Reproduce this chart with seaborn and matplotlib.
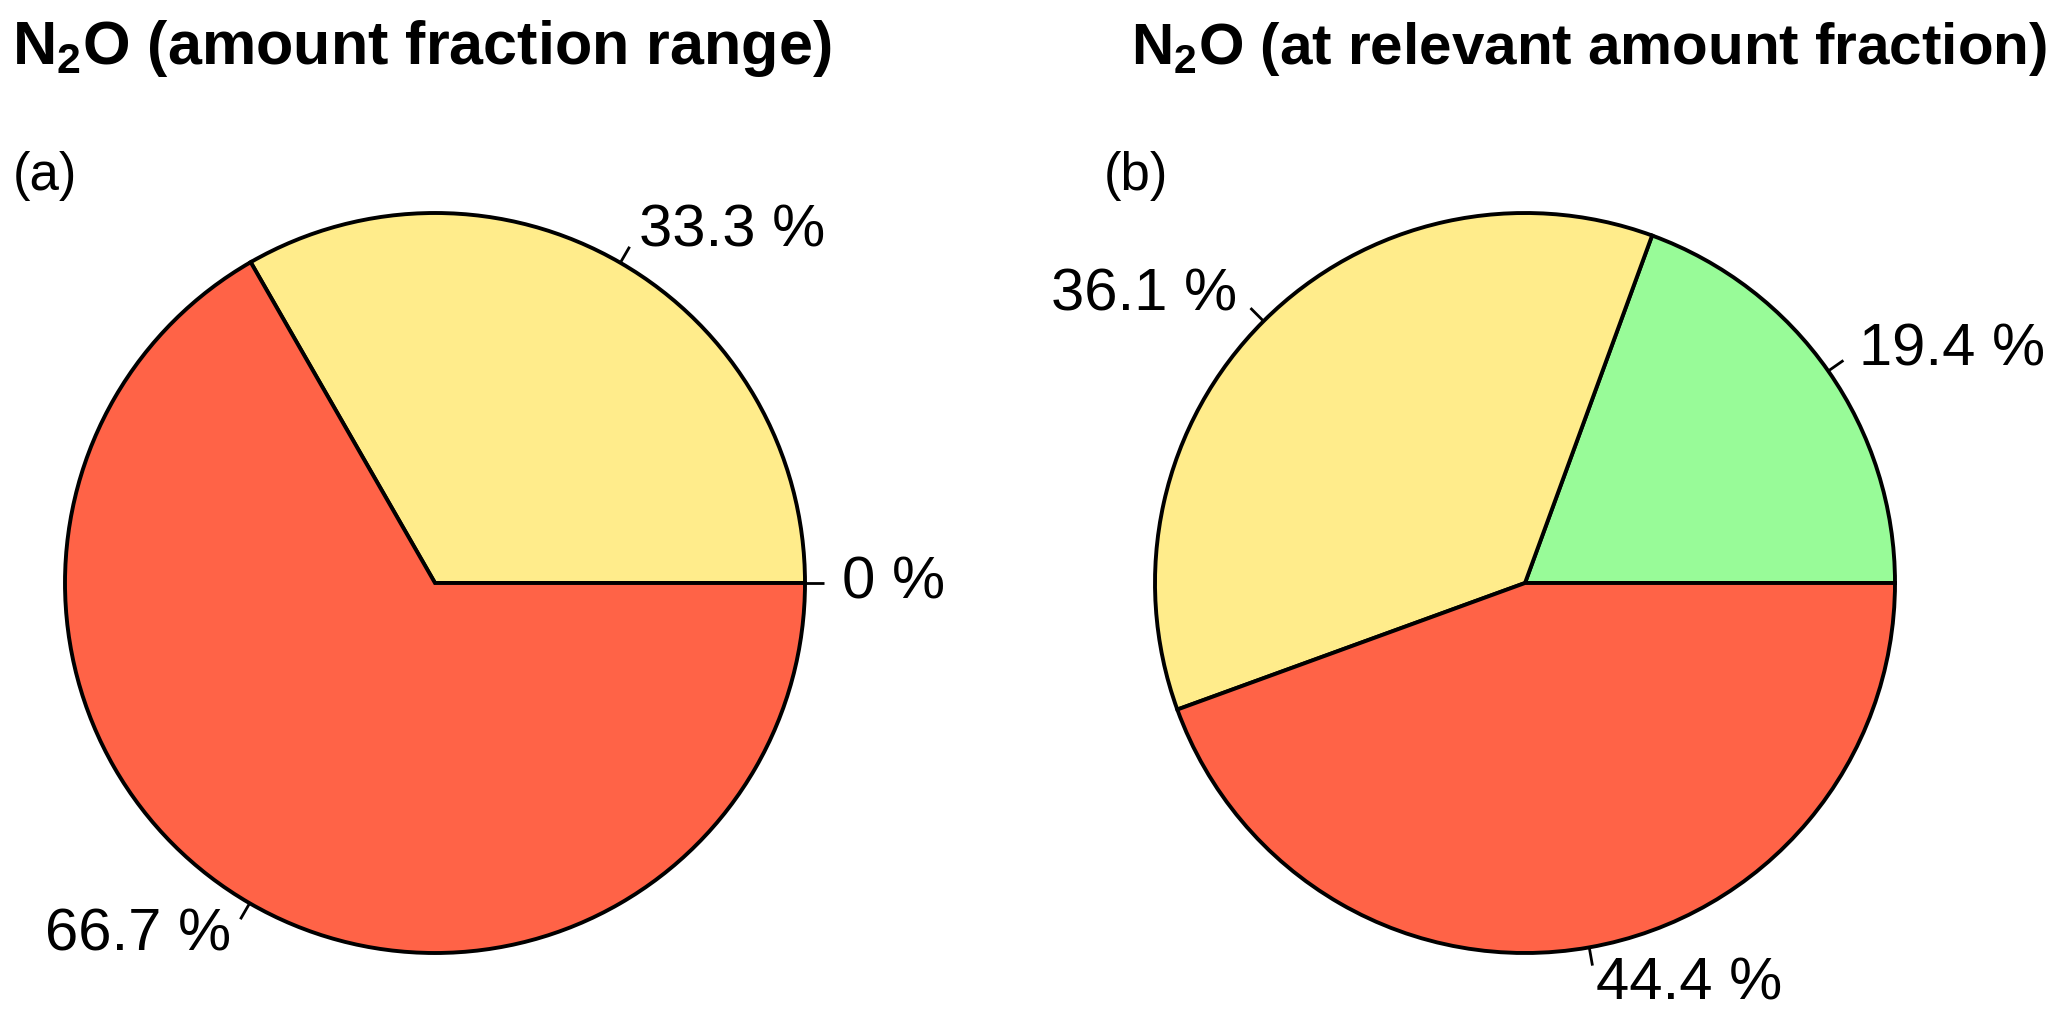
import numpy as np
import matplotlib
matplotlib.use("Agg")
import matplotlib.pyplot as plt
import seaborn as sns

# pie data: green, yellow, red
colors = ["#98FB98", "#FFEC8B", "#FF6347"]
share_a = [0.0, 33.3, 66.7]
share_b = [19.4, 36.1, 44.4]
labels_a = ["0 %", "33.3 %", "66.7 %"]
labels_b = ["19.4 %", "36.1 %", "44.4 %"]
titles = [r"N$_\mathbf{2}$O (amount fraction range)",
          r"N$_\mathbf{2}$O (at relevant amount fraction)"]
panels = ["(a)", "(b)"]

sns.set_theme(style="white")
plt.rcParams["font.family"] = ["Liberation Sans", "DejaVu Sans"]
plt.rcParams["mathtext.fontset"] = "custom"
plt.rcParams["mathtext.rm"] = "Liberation Sans"
plt.rcParams["mathtext.bf"] = "Liberation Sans:bold"
plt.rcParams["text.color"] = "black"

W, H = 2067, 1026
R = 370.0
fig = plt.figure(figsize=(W / 100, H / 100), dpi=100)
fig.patch.set_facecolor("white")


def draw_pie(ax, vals, labs, cx, cy, half_w):
    vals = np.array(vals)
    ax.pie(vals, colors=colors, startangle=0, counterclock=True,
           wedgeprops=dict(edgecolor="black", linewidth=2.8), radius=1.0)
    ax.set_aspect("auto")
    ax.set_xlim(-cx / R, (half_w - cx) / R)
    ax.set_ylim(-(H - cy) / R, cy / R)
    ax.axis("off")
    frac = vals / vals.sum()
    edges = np.concatenate([[0], np.cumsum(frac)])
    for i, lab in enumerate(labs):
        mid = 2 * np.pi * (edges[i] + edges[i + 1]) / 2
        x, y = np.cos(mid), np.sin(mid)
        ax.plot([x, 1.05 * x], [y, 1.05 * y], color="black", lw=2.0,
                clip_on=False, solid_capstyle="butt")
        ax.text(1.1 * x, 1.1 * y, lab, fontsize=43, color="black",
                ha="left" if x > 0 else "right", va="center", clip_on=False)


half = W / 2
ax1 = fig.add_axes([0, 0, 0.5, 1])
draw_pie(ax1, share_a, labels_a, 435, 583, half)
ax2 = fig.add_axes([0.5, 0, 0.5, 1])
draw_pie(ax2, share_b, labels_b, 1525 - half, 583, half)

fig.text(12 / W, 1 - 64 / H, titles[0], fontsize=44, fontweight="bold",
         va="baseline", color="black")
fig.text(1131 / W, 1 - 64 / H, titles[1], fontsize=42, fontweight="bold",
         va="baseline", color="black")
fig.text(13 / W, 1 - 190 / H, panels[0], fontsize=38, va="baseline", color="black")
fig.text(1104 / W, 1 - 190 / H, panels[1], fontsize=38, va="baseline", color="black")

fig.savefig("out.png", dpi=100, facecolor="white")
